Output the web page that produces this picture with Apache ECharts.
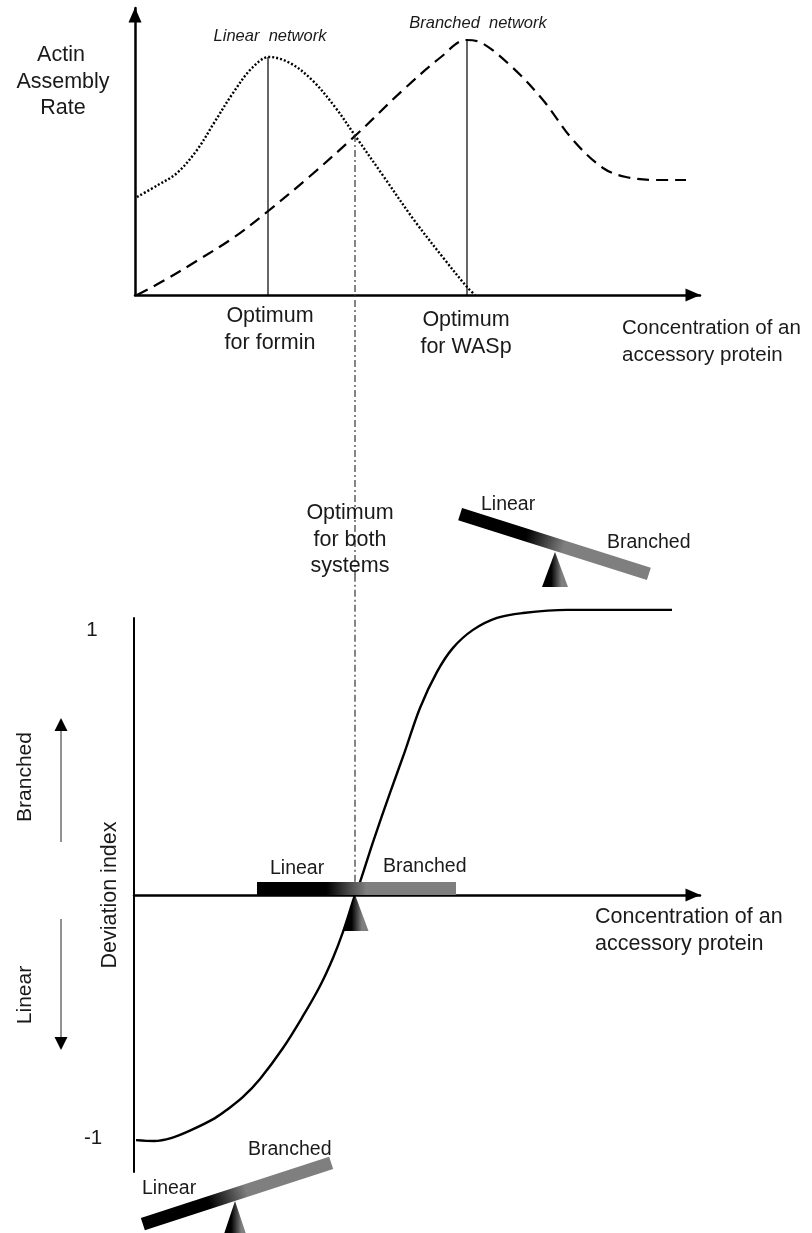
<!DOCTYPE html>
<html style="height: 100%">
<head>
<meta charset="utf-8">
<script src="https://cdn.jsdelivr.net/npm/echarts@6/dist/echarts.min.js"></script>
<title>Actin assembly rate and deviation index</title>
</head>
<body style="height: 100%; margin: 0; background: #fff">
<div id="container" style="width: 812px; height: 1233px"></div>
<script type="text/javascript">
// top panel: concentration vs assembly rate
let linearX = [2, 23, 42, 62, 79, 98, 117, 134, 155, 177, 200, 221, 249, 279, 310, 332, 340];
let linearY = [98, 110, 122, 145, 172, 202, 227, 238, 232, 215, 188, 158, 118, 75, 35, 8, 0];
let branchedX = [2, 30, 60, 98, 132, 174, 221, 268, 306, 331, 347, 377, 408, 438, 468, 491, 521, 551];
let branchedY = [0, 15, 33, 57, 83, 118, 160, 205, 238, 255, 252, 228, 195, 155, 127, 118, 115, 115];
let optimumFormin = [133, 238];
let optimumWasp = [332, 255];
// shared optimum: one piece in each panel, they meet between the panels
let optimumBothX = 220;
let optimumBothTop = [160, -280];
let optimumBothLower = [1.12, -0.1];

// bottom panel: concentration vs deviation index
let deviationX = [2, 20, 37, 57, 81, 94, 109, 126, 149, 169, 186, 199, 209, 221, 226, 239, 256, 271, 286, 303, 319, 339, 363, 389, 433, 538];
let deviationY = [-0.857, -0.860, -0.850, -0.822, -0.780, -0.748, -0.706, -0.643, -0.535, -0.423, -0.318, -0.220, -0.129, 0, 0.045, 0.185, 0.357, 0.503, 0.654, 0.780, 0.864, 0.927, 0.969, 0.986, 0.997, 0.997];

let zip = (xs, ys) => xs.map((x, i) => [x, ys[i]]);

let font = '"Liberation Sans", Arial, sans-serif';

function text(str, x, y, size, opts) {
    return Object.assign({
        type: 'text', x: x, y: y, z: 60,
        style: Object.assign({
            text: str, fill: '#1a1a1a', font: size + 'px ' + font,
            textAlign: 'center', textVerticalAlign: 'middle'
        }, opts && opts.style)
    }, opts && opts.shape);
}

function fade(a, b) {
    return {
        type: 'linear', x: 0, y: 0, x2: 1, y2: 0,
        colorStops: [
            {offset: 0, color: '#000'}, {offset: a, color: '#000'},
            {offset: b, color: '#7f7f7f'}, {offset: 1, color: '#7f7f7f'}
        ]
    };
}

function beam(x, y, len, angle) {
    return {
        type: 'rect', x: x, y: y, rotation: angle, z: 50,
        shape: {x: -len / 2, y: -6.5, width: len, height: 13},
        style: {fill: fade(0.35, 0.55)}
    };
}

function pivot(x, top, bottom) {
    return {
        type: 'polygon', z: 50,
        shape: {points: [[x, top], [x + 13, bottom], [x - 13, bottom]]},
        style: {fill: fade(0.35, 0.75)}
    };
}

function arrow(x, from, to) {
    let dir = to > from ? -1 : 1;
    return [
        {type: 'line', z: 40, shape: {x1: x, y1: from, x2: x, y2: to + dir * 12}, style: {stroke: '#222', lineWidth: 1}},
        {type: 'polygon', z: 40, shape: {points: [[x, to], [x + 6.5, to + dir * 13], [x - 6.5, to + dir * 13]]}, style: {fill: '#000'}}
    ];
}

let small = 19.5, mid = 20.5, large = 21.5;
let left = {style: {textAlign: 'left'}};
let italic = {style: {font: 'italic 16.5px ' + font}};
let upright = {shape: {rotation: Math.PI / 2}};

let graphics = [
    beam(554.5, 544, 198, -0.307),
    beam(356.5, 888.5, 199, 0),
    beam(237, 1193.5, 198, 0.314),
    pivot(555, 552, 587),
    pivot(355.5, 896, 931),
    pivot(235, 1201, 1240)
].concat(arrow(61, 842, 718), arrow(61, 919, 1050), [
    text('Actin', 61, 55, large),
    text('Assembly', 63, 82, large),
    text('Rate', 63, 108, large),
    text('Linear  network', 270, 36, 16.5, italic),
    text('Branched  network', 478, 23, 16.5, italic),
    text('Optimum', 270, 316, large),
    text('for formin', 270, 343, large),
    text('Optimum', 466, 320, large),
    text('for WASp', 466, 347, large),
    text('Concentration of an', 622, 328, mid, left),
    text('accessory protein', 622, 355, mid, left),
    text('Optimum', 350, 513, large),
    text('for both', 350, 540, large),
    text('systems', 350, 566, large),
    text('Linear', 481, 505, small, left),
    text('Branched', 607, 543, small, left),
    text('Linear', 270, 869, small, left),
    text('Branched', 383, 867, small, left),
    text('Branched', 248, 1150, small, left),
    text('Linear', 142, 1189, small, left),
    text('Concentration of an', 595, 917, large, left),
    text('accessory protein', 595, 944, large, left),
    text('1', 92, 630, mid),
    text('-1', 93, 1138, mid),
    text('Branched', 25, 777, 21, upright),
    text('Linear', 25, 995, 21, upright),
    text('Deviation index', 110, 895, 21.5, upright)
]);

let axisLine = {
    show: true, onZero: true,
    symbol: ['none', 'triangle'], symbolSize: [13, 15], symbolOffset: [0, -7],
    lineStyle: {color: '#000', width: 2.5}
};
let hidden = {
    axisTick: {show: false}, axisLabel: {show: false}, splitLine: {show: false}
};
let curve = {type: 'line', clip: false, showSymbol: false, smooth: 0.35};
let dashDot = {color: '#333', width: 1.2, type: [7, 3, 2, 3]};

let chart = echarts.init(document.getElementById('container'), null, {renderer: 'canvas'});
chart.setOption({
    animation: false,
    backgroundColor: '#fff',
    grid: [
        {left: 135, top: 8, width: 565, height: 287},
        {left: 134, top: 618, width: 566, height: 554}
    ],
    xAxis: [
        Object.assign({type: 'value', gridIndex: 0, min: 0, max: 565, axisLine: axisLine}, hidden),
        Object.assign({type: 'value', gridIndex: 1, min: 0, max: 566, axisLine: axisLine}, hidden)
    ],
    yAxis: [
        Object.assign({type: 'value', gridIndex: 0, min: 0, max: 287, axisLine: axisLine}, hidden),
        Object.assign({
            type: 'value', gridIndex: 1, min: -0.9685, max: 0.9685,
            axisLine: {show: true, onZero: false, lineStyle: {color: '#000', width: 2}}
        }, hidden)
    ],
    series: [
        Object.assign({
            name: 'Linear network', xAxisIndex: 0, yAxisIndex: 0,
            data: zip(linearX, linearY),
            lineStyle: {color: '#000', width: 2.4, type: [2, 2]}
        }, curve),
        Object.assign({
            name: 'Branched network', xAxisIndex: 0, yAxisIndex: 0,
            data: zip(branchedX, branchedY),
            lineStyle: {color: '#000', width: 2.2, type: [12, 7]}
        }, curve),
        {
            name: 'Optimum for formin', type: 'line', xAxisIndex: 0, yAxisIndex: 0,
            data: [[optimumFormin[0], 0], optimumFormin], showSymbol: false,
            lineStyle: {color: '#000', width: 1.2}
        },
        {
            name: 'Optimum for WASp', type: 'line', xAxisIndex: 0, yAxisIndex: 0,
            data: [[optimumWasp[0], 0], optimumWasp], showSymbol: false,
            lineStyle: {color: '#000', width: 1.2}
        },
        {
            name: 'Optimum for both', type: 'line', xAxisIndex: 0, yAxisIndex: 0, clip: false,
            data: optimumBothTop.map(y => [optimumBothX, y]), showSymbol: false,
            lineStyle: dashDot
        },
        {
            name: 'Optimum for both (lower)', type: 'line', xAxisIndex: 1, yAxisIndex: 1, clip: false,
            data: optimumBothLower.map(y => [optimumBothX + 1, y]), showSymbol: false,
            lineStyle: dashDot
        },
        Object.assign({
            name: 'Deviation index', xAxisIndex: 1, yAxisIndex: 1,
            data: zip(deviationX, deviationY),
            lineStyle: {color: '#000', width: 2.4}
        }, curve)
    ],
    graphic: graphics
});
</script>
</body>
</html>
